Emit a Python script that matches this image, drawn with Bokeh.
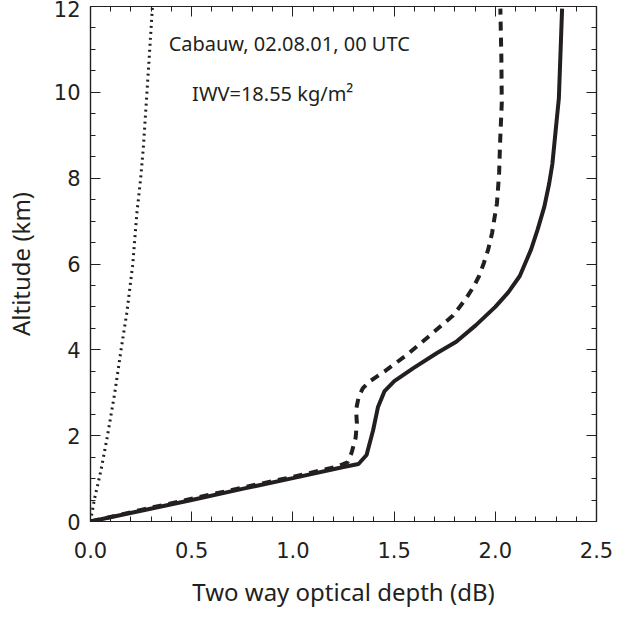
from bokeh.plotting import figure
from bokeh.models import (Range1d, LinearAxis, FixedTicker, PrintfTickFormatter, Label,
                          CustomJSTickFormatter)
from bokeh.embed import file_html
from bokeh.resources import INLINE

# ---- data ----
# solid curve: two way optical depth (dB) vs altitude (km)
solid_tau = [0.0, 0.25, 0.5, 0.75, 1.0, 1.25, 1.324, 1.364, 1.396, 1.42, 1.453, 1.501,
             1.597, 1.71, 1.807, 1.903, 2.0, 2.064, 2.121, 2.177, 2.209, 2.242, 2.266,
             2.282, 2.298, 2.314, 2.322, 2.33]
solid_alt = [0.0, 0.25, 0.5, 0.76, 1.01, 1.27, 1.34, 1.55, 2.12, 2.66, 3.04, 3.27,
             3.58, 3.92, 4.19, 4.57, 5.0, 5.34, 5.72, 6.34, 6.80, 7.33, 7.87,
             8.33, 9.10, 9.86, 10.9, 11.95]

# dashed curve
dash_tau = [0.0, 0.25, 0.5, 0.75, 1.0, 1.22, 1.27, 1.29, 1.31, 1.316, 1.312, 1.325,
            1.345, 1.375, 1.453, 1.565, 1.678, 1.791, 1.855, 1.895, 1.92, 1.944, 1.965,
            1.984, 1.997, 2.008, 2.013, 2.019, 2.024, 2.032, 2.03, 2.025]
dash_alt = [0.0, 0.27, 0.53, 0.79, 1.04, 1.28, 1.38, 1.6, 1.95, 2.3, 2.6, 2.9,
            3.1, 3.25, 3.5, 3.89, 4.34, 4.8, 5.19, 5.49, 5.72, 6.03, 6.34,
            6.72, 7.1, 7.41, 7.72, 8.14, 8.87, 9.75, 10.8, 11.95]

# dotted curve
dot_tau = [0.0, 0.019, 0.052, 0.084, 0.119, 0.151, 0.18, 0.209, 0.229, 0.248, 0.261,
           0.277, 0.29, 0.306]
dot_alt = [0.0, 0.51, 1.2, 2.0, 2.97, 4.0, 4.88, 6.0, 7.18, 8.0, 8.71, 9.86, 10.8, 12.0]

x_major = [0.0, 0.5, 1.0, 1.5, 2.0, 2.5]
y_major = [0, 2, 4, 6, 8, 10, 12]

title_text = "Cabauw, 02.08.01, 00 UTC"
iwv_text = "IWV=18.55 kg/m\u00b2"

INK = "#231f20"
TICK_FONT = "DejaVu Sans"
LABEL_FONT = "Noto Sans"

x_minor = [round(i * 0.1, 2) for i in range(26)]
y_minor = [i * 0.5 for i in range(25)]

p = figure(width=614, height=613, x_range=Range1d(0, 2.5), y_range=Range1d(0, 12),
           output_backend="svg", toolbar_location=None,
           min_border_left=78, min_border_right=18, min_border_top=6, min_border_bottom=92,
           x_axis_label="Two way optical depth (dB)", y_axis_label="Altitude (km)")
p.grid.visible = False
p.outline_line_color = INK
p.outline_line_width = 1.2
p.background_fill_color = "white"
p.border_fill_color = "white"


def style_axis(ax):
    ax.axis_line_color = INK
    ax.axis_line_width = 1.2
    ax.major_tick_line_color = INK
    ax.minor_tick_line_color = INK
    ax.major_tick_in = 10
    ax.major_tick_out = 0
    ax.minor_tick_in = 5
    ax.minor_tick_out = 0


for ax in p.xaxis:
    ax.ticker = FixedTicker(ticks=x_major, minor_ticks=x_minor)
    ax.formatter = PrintfTickFormatter(format="%.1f")
    style_axis(ax)
    ax.major_label_text_font = TICK_FONT
    ax.major_label_text_font_size = "21px"
    ax.major_label_text_color = INK
    ax.major_label_standoff = 20
    ax.axis_label_text_font = LABEL_FONT
    ax.axis_label_text_font_size = "24px"
    ax.axis_label_text_font_style = "normal"
    ax.axis_label_text_color = INK
    ax.axis_label_standoff = 14

for ax in p.yaxis:
    ax.ticker = FixedTicker(ticks=y_major, minor_ticks=y_minor)
    ax.formatter = PrintfTickFormatter(format="%d")
    style_axis(ax)
    ax.major_label_text_font = TICK_FONT
    ax.major_label_text_font_size = "21px"
    ax.major_label_text_color = INK
    ax.major_label_standoff = 10
    ax.axis_label_text_font = LABEL_FONT
    ax.axis_label_text_font_size = "24px"
    ax.axis_label_text_font_style = "normal"
    ax.axis_label_text_color = INK
    ax.axis_label_standoff = 14

blank = CustomJSTickFormatter(code="return ''")
top_ax = LinearAxis(ticker=FixedTicker(ticks=x_major, minor_ticks=x_minor), formatter=blank,
                    major_label_standoff=0)
style_axis(top_ax)
p.add_layout(top_ax, "above")
right_ax = LinearAxis(ticker=FixedTicker(ticks=y_major, minor_ticks=y_minor), formatter=blank,
                      major_label_standoff=0)
style_axis(right_ax)
p.add_layout(right_ax, "right")

p.line(solid_tau, solid_alt, line_color=INK, line_width=4)
p.line(dash_tau, dash_alt, line_color=INK, line_width=4, line_dash="9 7")
p.line(dot_tau, dot_alt, line_color=INK, line_width=3, line_dash="2 4")

p.add_layout(Label(x=0.386, y=11.13, text=title_text, text_font=LABEL_FONT,
                   text_font_size="20px", text_color=INK, text_baseline="middle"))
p.add_layout(Label(x=0.502, y=9.98, text=iwv_text, text_font=LABEL_FONT,
                   text_font_size="20px", text_color=INK, text_baseline="middle"))

open("out.html", "w").write(file_html(p, INLINE))
